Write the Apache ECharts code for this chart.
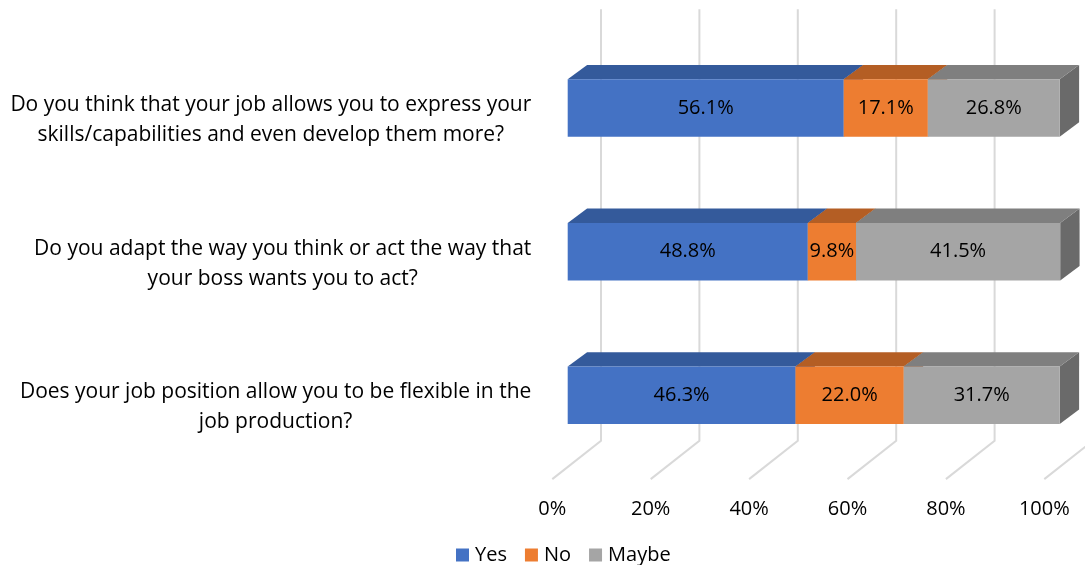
<!DOCTYPE html>
<html>
<head>
<meta charset="utf-8">
<script src="https://cdn.jsdelivr.net/npm/echarts@6/dist/echarts.min.js"></script>
<style>
  html, body { margin: 0; padding: 0; background: #fff; }
  #chart { width: 1085px; height: 565px; }
</style>
</head>
<body>
<div id="chart"></div>
<script>
// Survey questions (top to bottom) and answer shares in percent
const questions = [
  'Do you think that your job allows you to express your\nskills/capabilities and even develop them more?',
  'Do you adapt the way you think or act the way that\nyour boss wants you to act?',
  'Does your job position allow you to be flexible in the\njob production?'
];
const answerNames = ['Yes', 'No', 'Maybe'];
const yesValues = [56.1, 48.8, 46.3];
const noValues = [17.1, 9.8, 22.0];
const maybeValues = [26.8, 41.5, 31.7];
const axisTicks = [0, 20, 40, 60, 80, 100];

const FONT = 'Open Sans';
// Face colours: front, top, right side
const palette = [
  { front: '#4472C4', top: '#345A9B', side: '#2F5290' },
  { front: '#ED7D31', top: '#B45E24', side: '#A35521' },
  { front: '#A5A5A5', top: '#7F7F7F', side: '#6A6A6A' }
];

// Pseudo-3D depth offsets (pixels) measured from the front edge of the floor
const BAR_FRONT = { dx: 15.4, dy: -12.0 };
const BAR_BACK = { dx: 34.8, dy: -26.4 };
const WALL = { dx: 48.7, dy: -38.3 };
const WALL_TOP = 9.3;

const seriesValues = [yesValues, noValues, maybeValues];

// Stacked segments: [start, end, categoryIndex, value]
function stackedData(k) {
  return questions.map((q, i) => {
    let base = 0;
    for (let j = 0; j < k; j++) base += seriesValues[j][i];
    const v = seriesValues[k][i];
    return [base, base + v, i, v];
  });
}

// Floor line plus back-wall line for one tick value
function renderGrid(params, api) {
  const cs = params.coordSys;
  const x = api.coord([api.value(0), 0])[0];
  const yFloor = cs.y + cs.height;
  const style = { stroke: '#D9D9D9', lineWidth: 2, fill: null };
  return {
    type: 'group',
    children: [
      { type: 'polyline', shape: { points: [[x, yFloor], [x + WALL.dx, yFloor + WALL.dy], [x + WALL.dx, WALL_TOP]] }, style: style, silent: true }
    ]
  };
}

// One stacked segment drawn as a box: side, top and front faces plus its value label
function makeBarRenderer(k) {
  const c = palette[k];
  return function (params, api) {
    const x0 = api.coord([api.value(0), api.value(2)])[0];
    const x1 = api.coord([api.value(1), api.value(2)])[0];
    const yc = api.coord([0, api.value(2)])[1];
    const band = api.size([0, 1])[1];
    const h = band * 0.4;
    const ft = yc + BAR_FRONT.dy - h / 2;
    const fb = ft + h;
    const fx0 = x0 + BAR_FRONT.dx, fx1 = x1 + BAR_FRONT.dx;
    const bx0 = x0 + BAR_BACK.dx, bx1 = x1 + BAR_BACK.dx;
    const ddy = BAR_BACK.dy - BAR_FRONT.dy;
    const v = api.value(3);
    return {
      type: 'group',
      children: [
        { type: 'polygon', shape: { points: [[fx1, ft], [bx1, ft + ddy], [bx1, fb + ddy], [fx1, fb]] }, style: { fill: c.side } },
        { type: 'polygon', shape: { points: [[fx0, ft], [bx0, ft + ddy], [bx1, ft + ddy], [fx1, ft]] }, style: { fill: c.top } },
        { type: 'rect', shape: { x: fx0, y: ft, width: fx1 - fx0, height: h }, style: { fill: c.front } },
        { type: 'text', x: (fx0 + fx1) / 2, y: (ft + fb) / 2,
          style: { text: v.toFixed(1) + '%', align: 'center', verticalAlign: 'middle',
                   font: '20px "' + FONT + '"', fill: '#000' } }
      ]
    };
  };
}

const chart = echarts.init(document.getElementById('chart'), null, { renderer: 'canvas' });

const series = [{
  type: 'custom',
  name: 'grid',
  silent: true,
  data: axisTicks.map(t => [t]),
  encode: { x: 0 },
  renderItem: renderGrid,
  z: 1
}];
answerNames.forEach((name, k) => {
  series.push({
    type: 'custom',
    name: name,
    data: stackedData(k),
    encode: { x: [0, 1], y: 2 },
    itemStyle: { color: palette[k].front },
    renderItem: makeBarRenderer(k),
    z: 2 + k
  });
});

chart.setOption({
  animation: false,
  backgroundColor: '#fff',
  grid: { left: 552.3, right: 40.7, top: 48.2, bottom: 85.9, containLabel: false },
  xAxis: {
    type: 'value', min: 0, max: 100, interval: 20,
    axisLine: { show: false }, axisTick: { show: false }, splitLine: { show: false },
    axisLabel: {
      formatter: '{value}%', margin: 20, lineHeight: 20,
      fontFamily: FONT, fontSize: 20, color: '#000'
    }
  },
  yAxis: {
    type: 'category', inverse: true,
    data: questions,
    axisLine: { show: false }, axisTick: { show: false }, splitLine: { show: false },
    axisLabel: {
      margin: 21, fontFamily: FONT, fontSize: 21, color: '#000', lineHeight: 30,
      formatter: v => v.split('\n').map(l => '{c|' + l + '}').join('\n'),
      rich: { c: { align: 'center', fontFamily: FONT, fontSize: 21, lineHeight: 30, color: '#000' } }
    }
  },
  legend: {
    data: answerNames,
    left: 451, top: 540,
    icon: 'rect', itemWidth: 13, itemHeight: 13, itemGap: 18,
    textStyle: { fontFamily: FONT, fontSize: 20, color: '#000', padding: [0, 0, 0, 1] }
  },
  series: series
});
</script>
</body>
</html>
